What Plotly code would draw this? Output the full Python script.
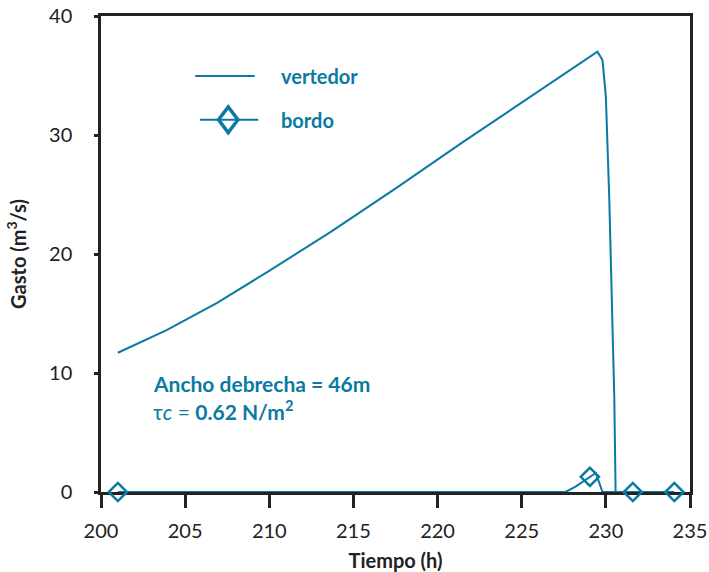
import plotly.graph_objects as go

# vertedor (spillway) discharge
vert_t = [201.0, 203.9, 206.9, 209.9, 213.7, 217.6, 221.5, 225.5, 228.3, 229.1, 229.5,
          229.8, 230.0, 230.2, 230.36, 230.5, 230.58, 234.0]
vert_q = [11.7, 13.6, 15.9, 18.5, 21.9, 25.6, 29.4, 33.2, 35.8, 36.6, 37.0,
          36.3, 33.2, 24.8, 16.4, 8.0, 0.0, 0.0]

# bordo (embankment) discharge
bordo_t = [201.0, 227.6, 228.2, 228.7, 229.05, 229.4, 229.6, 229.8, 231.6, 234.07]
bordo_q = [0.0, 0.0, 0.45, 0.95, 1.28, 1.6, 0.8, 0.0, 0.0, 0.0]
bordo_mark_t = [201.0, 229.05, 231.6, 234.07]
bordo_mark_q = [0.0, 1.28, 0.0, 0.0]

x_ticks = [200, 205, 210, 215, 220, 225, 230, 235]
y_ticks = [0, 10, 20, 30, 40]
series_names = ["vertedor", "bordo"]

TEAL = "#0a7aa3"
FONT = "Lato"

fig = go.Figure()
fig.add_trace(go.Scatter(x=vert_t, y=vert_q, mode="lines", name=series_names[0],
                         line=dict(color=TEAL, width=2), showlegend=False,
                         cliponaxis=False))
fig.add_trace(go.Scatter(x=bordo_t, y=bordo_q, mode="lines", showlegend=False,
                         name=series_names[1],
                         line=dict(color=TEAL, width=2), cliponaxis=False))
fig.add_trace(go.Scatter(x=bordo_mark_t, y=bordo_mark_q, mode="markers", showlegend=False,
                         name=series_names[1],
                         marker=dict(symbol="diamond-open", size=14, color=TEAL,
                                     line=dict(width=2.5, color=TEAL)),
                         cliponaxis=False))

# manual legend (line samples, diamond, labels) in paper coordinates
fig.add_shape(type="line", xref="paper", yref="paper", x0=0.160, x1=0.261, y0=0.874, y1=0.874,
              line=dict(color=TEAL, width=2))
fig.add_shape(type="line", xref="paper", yref="paper", x0=0.168, x1=0.267, y0=0.782, y1=0.782,
              line=dict(color=TEAL, width=2))
cx, cy, hw, hh = 0.216, 0.782, 0.0165, 0.027
fig.add_shape(type="path", xref="paper", yref="paper",
              path=f"M {cx-hw},{cy} L {cx},{cy+hh} L {cx+hw},{cy} L {cx},{cy-hh} Z",
              fillcolor="rgba(0,0,0,0)", line=dict(color=TEAL, width=3.5))
for name, yy in zip(series_names, [0.874, 0.782]):
    fig.add_annotation(x=0.302, y=yy, xref="paper", yref="paper", xanchor="left",
                       yanchor="middle", showarrow=False, text=f"<b>{name}</b>",
                       font=dict(family=FONT, size=20, color=TEAL))

fig.add_annotation(x=203.0, y=9.1, xref="x", yref="y", xanchor="left", yanchor="middle",
                   showarrow=False, text="<b>Ancho debrecha = 46m</b>",
                   font=dict(family=FONT, size=21, color=TEAL))
fig.add_annotation(x=203.0, y=6.9, xref="x", yref="y", xanchor="left", yanchor="middle",
                   showarrow=False, text="τ<i>c</i> = <b>0.62 N/m<sup>2</sup></b>",
                   font=dict(family=FONT, size=21, color=TEAL))

axis_common = dict(showline=True, linecolor="#222", linewidth=2.5, mirror=True,
                   showgrid=False, zeroline=False, ticks="outside", automargin=False,
                   tickcolor="#222", tickwidth=2.5, layer="below traces",
                   tickfont=dict(family=FONT, size=20, color="#222"))

fig.update_layout(
    width=709, height=572,
    margin=dict(l=101, r=19, t=16, b=80),
    paper_bgcolor="white", plot_bgcolor="white",
    showlegend=False,
    xaxis=dict(range=[200, 235], tickvals=x_ticks, ticklen=13, ticklabelstandoff=6,
               title=dict(text="<b>Tiempo (h)</b>", standoff=24,
                          font=dict(family=FONT, size=20, color="#222")),
               **axis_common),
    yaxis=dict(range=[0, 40], tickvals=y_ticks, ticklen=4, ticklabelstandoff=18,
               title=dict(text="<b>Gasto (m<sup>3</sup>/s)</b>", standoff=18,
                          font=dict(family=FONT, size=20, color="#222")),
               **axis_common),
)

fig.write_html("out.html", config={"displayModeBar": False},
               post_script="document.body.style.margin='0';document.body.style.overflow='hidden';")
